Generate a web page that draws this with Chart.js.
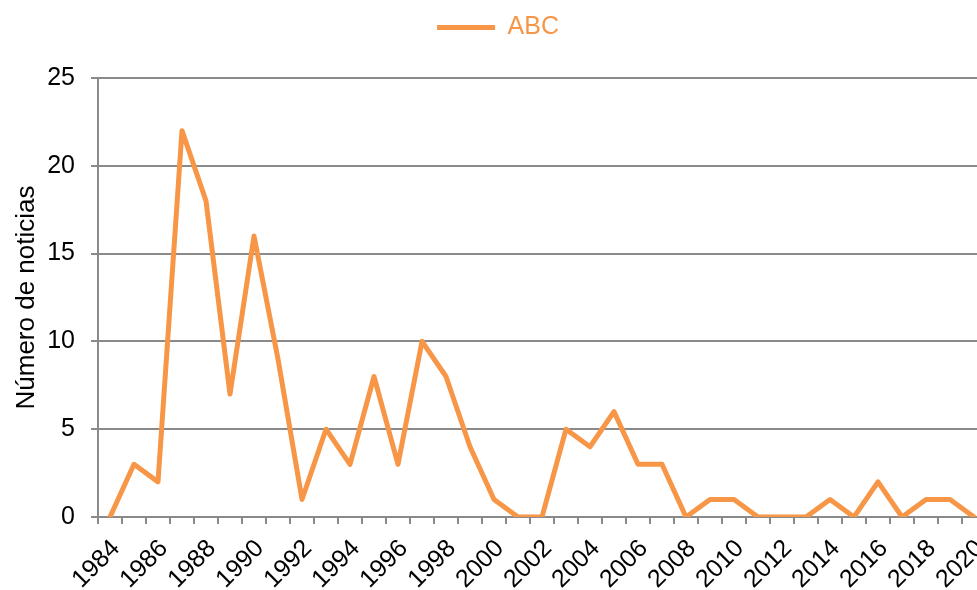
<!DOCTYPE html>
<html>
<head>
<meta charset="utf-8">
<script src="https://cdn.jsdelivr.net/npm/chart.js@4/dist/chart.umd.min.js"></script>
<style>
  html, body { margin: 0; padding: 0; background: #fff; overflow: hidden; }
  #wrap { width: 977px; height: 590px; overflow: hidden; position: relative; }
  canvas { display: block; }
</style>
</head>
<body>
<div id="wrap"><canvas id="c" width="990" height="590"></canvas></div>
<script>
const years = [1984,1985,1986,1987,1988,1989,1990,1991,1992,1993,1994,1995,1996,1997,1998,1999,2000,2001,2002,2003,2004,2005,2006,2007,2008,2009,2010,2011,2012,2013,2014,2015,2016,2017,2018,2019,2020];
const abc = [0,3,2,22,18,7,16,9,1,5,3,8,3,10,8,4,1,0,0,5,4,6,3,3,0,1,1,0,0,0,1,0,2,0,1,1,0];
const yTicks = [0,5,10,15,20,25];
const seriesName = 'ABC';
const yTitle = 'Número de noticias';

const orange = '#F79646';
const grey = '#8A8A8A';
const fam = '"Liberation Sans", Arial, sans-serif';

const legendGap = {
  id: 'legendGap',
  afterInit(chart) {
    const l = chart.legend;
    if (!l) return;
    const f = l.fit.bind(l);
    l.fit = function() { f(); this.height += 28; };
  }
};

new Chart(document.getElementById('c'), {
  type: 'line',
  data: {
    labels: years.map(String),
    datasets: [{
      label: seriesName,
      data: abc,
      borderColor: orange,
      backgroundColor: orange,
      borderWidth: 5,
      pointRadius: 0,
      pointHoverRadius: 0,
      tension: 0,
      borderCapStyle: 'round',
      borderJoinStyle: 'round'
    }]
  },
  plugins: [legendGap],
  options: {
    responsive: false,
    animation: false,
    events: [],
    layout: { padding: { left: 10, right: 4, top: 0, bottom: 0 } },
    plugins: {
      legend: {
        display: true,
        position: 'top',
        labels: {
          usePointStyle: true,
          pointStyle: 'line',
          pointStyleWidth: 58,
          color: orange,
          font: { family: fam, size: 25 },
          padding: 15
        }
      },
      tooltip: { enabled: false }
    },
    scales: {
      x: {
        type: 'category',
        offset: true,
        grid: {
          offset: true,
          drawOnChartArea: false,
          drawTicks: true,
          tickLength: 7,
          color: grey,
          lineWidth: 2
        },
        border: { display: true, color: grey, width: 2 },
        ticks: {
          autoSkip: false,
          maxRotation: 45,
          minRotation: 45,
          padding: 10,
          labelOffset: 6,
          color: '#000',
          font: { family: fam, size: 25 },
          callback: function(val, i) { return i % 2 === 0 ? this.getLabelForValue(val) : ''; }
        },
        afterFit: function(scale) { scale.height = 73; scale.paddingRight = 0; scale.paddingLeft = 0; }
      },
      y: {
        min: 0,
        max: 25,
        afterBuildTicks: function(scale) { scale.ticks = yTicks.map(v => ({ value: v })); },
        grid: {
          color: grey,
          lineWidth: 2,
          drawTicks: true,
          tickLength: 7
        },
        border: { display: true, color: grey, width: 2 },
        ticks: {
          padding: 16,
          color: '#000',
          font: { family: fam, size: 25 }
        },
        title: {
          display: true,
          text: yTitle,
          color: '#000',
          font: { family: fam, size: 26 },
          padding: { top: 1, bottom: 0 }
        },
        afterFit: function(scale) { scale.width = 88; }
      }
    }
  }
});
</script>
</body>
</html>
